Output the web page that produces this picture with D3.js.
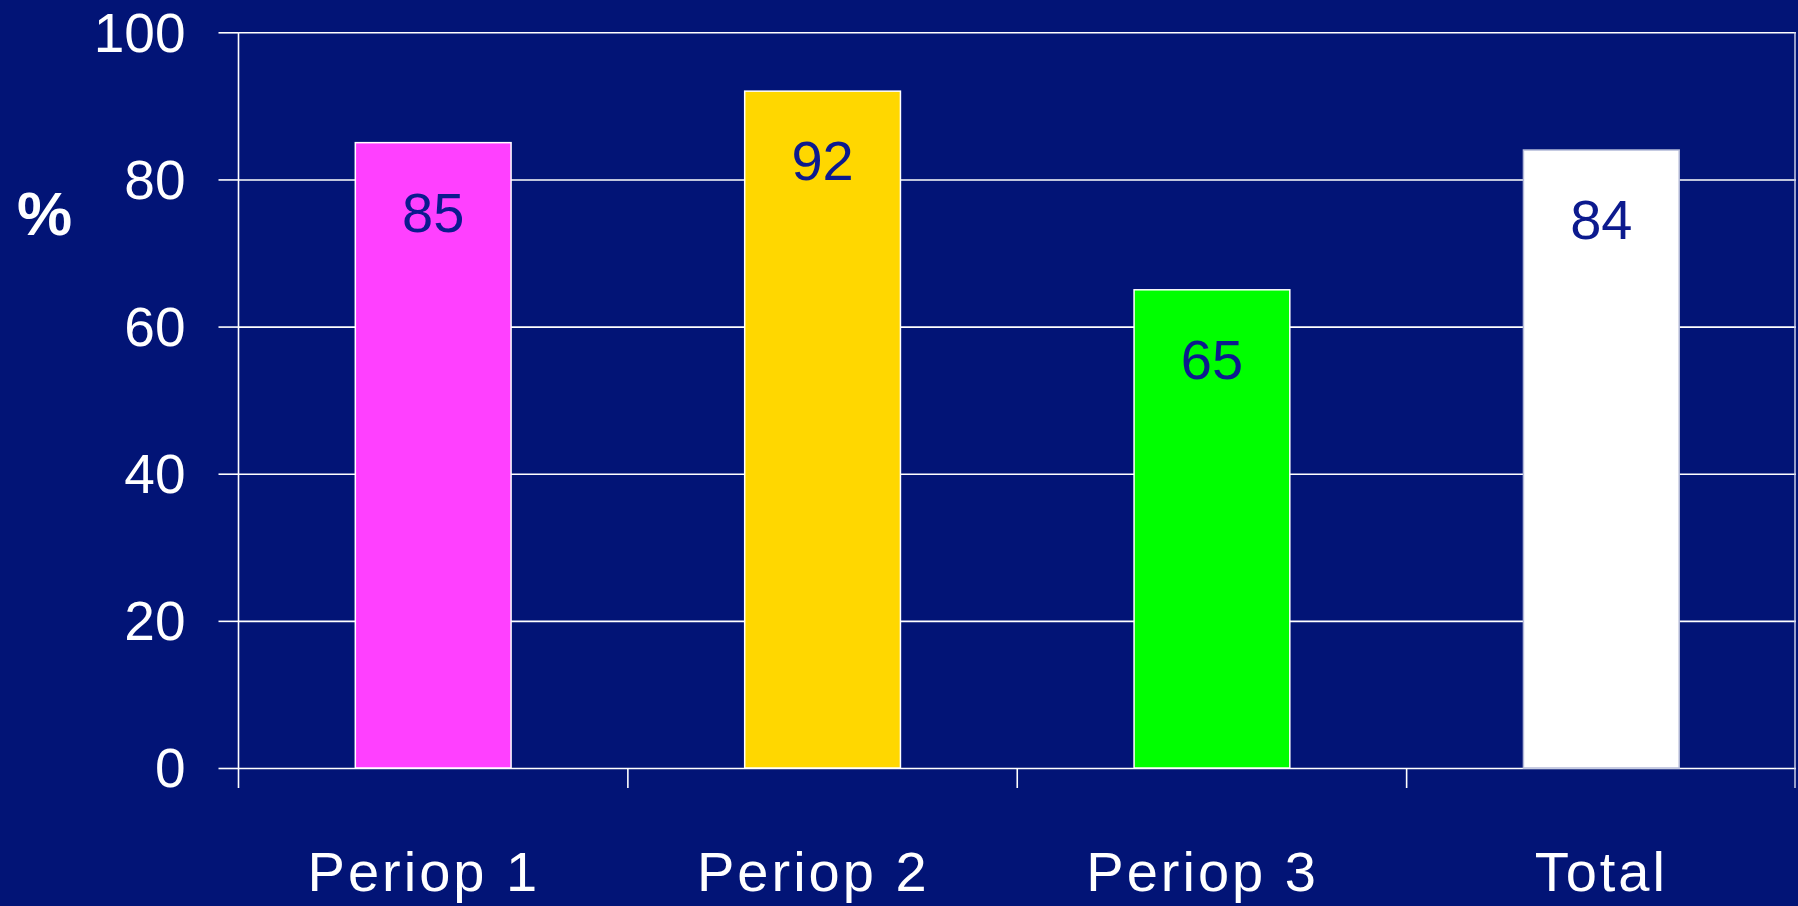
<!DOCTYPE html>
<html>
<head>
<meta charset="utf-8">
<script src="https://cdn.jsdelivr.net/npm/d3@7"></script>
<style>
  html, body { margin: 0; padding: 0; background: #021476; overflow: hidden; }
  svg { display: block; }
  text { font-family: "Liberation Sans", Arial, sans-serif; }
  .cat-label { white-space: pre; }
</style>
</head>
<body>
<svg id="chart" width="1798" height="906"></svg>
<script>
// Share of patients per period (%)
const categories = ["Periop 1 ", "Periop 2 ", "Periop 3 ", "Total"];
const values = [85, 92, 65, 84];
const barColors = ["#ff40ff", "#ffd700", "#00ff00", "#ffffff"];
const yTicks = [0, 20, 40, 60, 80, 100];

const W = 1798, H = 906;
const margin = { left: 238.5, right: 2, top: 32.3, bottom: 138 };
const bg = "#021476";
const labelColor = "#0c1a8e";

const svg = d3.select("#chart");
svg.append("rect").attr("width", W).attr("height", H).attr("fill", bg);

const x = d3.scaleBand()
  .domain(categories)
  .range([margin.left, W - margin.right])
  .paddingInner(0).paddingOuter(0);

const y = d3.scaleLinear()
  .domain([0, 100])
  .range([H - margin.bottom, margin.top]);

const x0 = x.range()[0], x1 = x.range()[1];
const yBase = y(0);
const tickLen = 20;

// Horizontal gridlines with short ticks left of the axis
svg.append("g")
  .attr("transform", `translate(${x0},0)`)
  .call(d3.axisLeft(y).tickValues(yTicks).tickSize(tickLen).tickPadding(33).tickFormat(d3.format("d")))
  .call(g => g.select(".domain").remove())
  .call(g => g.selectAll(".tick line").attr("stroke", "#ffffff").attr("stroke-width", 1.6))
  .call(g => g.selectAll(".tick").append("line")
      .attr("x1", 0).attr("x2", x1 - x0)
      .attr("stroke", "#ffffff").attr("stroke-width", 1.6))
  .call(g => g.selectAll(".tick text")
      .attr("fill", "#ffffff")
      .attr("font-size", 55)
      .attr("dy", "0.34em")
      .style("font-family", "'Liberation Sans', Arial, sans-serif"));

// Left axis line, running down past the baseline
svg.append("line")
  .attr("x1", x0).attr("x2", x0)
  .attr("y1", y(100)).attr("y2", yBase + tickLen)
  .attr("stroke", "#ffffff").attr("stroke-width", 1.6);

// Right edge line
svg.append("line")
  .attr("x1", x1 - 1).attr("x2", x1 - 1)
  .attr("y1", y(100)).attr("y2", yBase + tickLen)
  .attr("stroke", "#c8cce6").attr("stroke-width", 1.5);

// Category separator ticks under the baseline
svg.append("g").selectAll("line")
  .data(categories.slice(1))
  .join("line")
  .attr("x1", d => x(d)).attr("x2", d => x(d))
  .attr("y1", yBase).attr("y2", yBase + tickLen)
  .attr("stroke", "#ffffff").attr("stroke-width", 1.6);

// Bars
const barFrac = 0.4;
const bw = x.bandwidth() * barFrac;
const bars = svg.append("g").selectAll("g")
  .data(categories.map((c, i) => ({ c, v: values[i], col: barColors[i] })))
  .join("g");

bars.append("rect")
  .attr("x", d => x(d.c) + (x.bandwidth() - bw) / 2)
  .attr("y", d => y(d.v))
  .attr("width", bw)
  .attr("height", d => yBase - y(d.v))
  .attr("fill", d => d.col)
  .attr("stroke", d => d.col === "#ffffff" ? "#b4bad8" : "#ffffff")
  .attr("stroke-width", 1.5);

// Value labels inside the bars
bars.append("text")
  .attr("x", d => x(d.c) + x.bandwidth() / 2)
  .attr("y", d => y(d.v) + 89)
  .attr("text-anchor", "middle")
  .attr("font-size", 56)
  .attr("fill", labelColor)
  .text(d => d.v);

// Category labels
svg.append("g").selectAll("text")
  .data(categories)
  .join("text")
  .attr("class", "cat-label")
  .attr("x", d => x(d) + x.bandwidth() / 2)
  .attr("y", 891)
  .attr("text-anchor", "middle")
  .attr("font-size", 56)
  .attr("letter-spacing", 3)
  .attr("fill", "#ffffff")
  .text(d => d);

// Unit label
svg.append("text")
  .attr("x", 44.5)
  .attr("y", 235)
  .attr("text-anchor", "middle")
  .attr("font-size", 62)
  .attr("font-weight", "bold")
  .attr("fill", "#ffffff")
  .text("%");
</script>
</body>
</html>
